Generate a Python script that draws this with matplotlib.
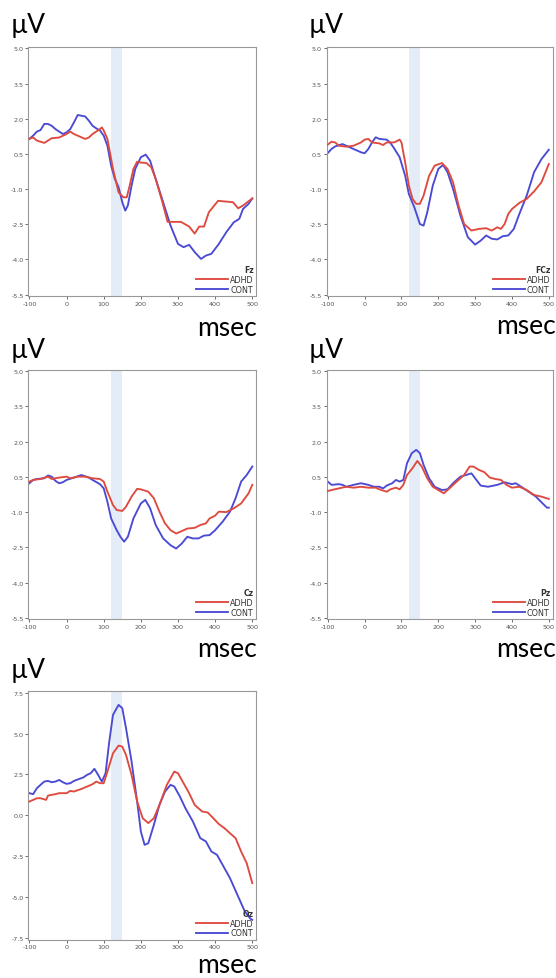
import matplotlib
matplotlib.use("Agg")
import matplotlib.pyplot as plt

plt.rcParams['axes.unicode_minus'] = False

# ---- data (time in msec, amplitude in uV) ----
fz_adhd_t = [-100, -90, -80, -60, -50, -40, -20, 0, 10, 20, 30, 50, 60, 70, 90, 95, 100, 110, 125, 140, 153, 162,
             170, 180, 190, 195, 215, 228, 240, 258, 272, 285, 308, 330, 345, 357, 370, 383, 408, 420, 448, 462, 475, 500]
fz_adhd_v = [1.15, 1.2, 1.07, 0.97, 1.07, 1.17, 1.2, 1.35, 1.45, 1.35, 1.28, 1.14, 1.2, 1.35, 1.56, 1.63, 1.5, 1.14,
             -0.14, -1.14, -1.35, -1.35, -0.85, -0.14, 0.17, 0.14, 0.11, -0.07, -0.57, -1.56, -2.4, -2.4, -2.4, -2.6,
             -2.9, -2.6, -2.6, -1.99, -1.5, -1.52, -1.56, -1.82, -1.7, -1.4]
fz_cont_t = [-100, -90, -80, -70, -60, -50, -40, -30, -10, 0, 10, 20, 30, 40, 50, 60, 70, 80, 90, 100, 110, 120, 130,
             140, 150, 158, 165, 175, 185, 200, 213, 225, 240, 260, 280, 300, 315, 330, 345, 362, 375, 390, 410, 430,
             450, 465, 475, 490, 500]
fz_cont_v = [1.14, 1.28, 1.45, 1.52, 1.78, 1.78, 1.7, 1.56, 1.35, 1.42, 1.56, 1.85, 2.16, 2.13, 2.1, 1.92, 1.7, 1.59,
             1.5, 1.28, 0.85, 0.0, -0.57, -0.92, -1.56, -1.92, -1.7, -0.85, -0.14, 0.36, 0.47, 0.21, -0.57, -1.56,
             -2.56, -3.34, -3.48, -3.38, -3.69, -3.98, -3.84, -3.76, -3.34, -2.84, -2.42, -2.27, -1.85, -1.63, -1.4]

fcz_adhd_t = [-100, -90, -80, -70, -50, -30, -10, 0, 10, 20, 40, 50, 60, 80, 95, 100, 110, 120, 130, 140, 150, 160,
              175, 190, 210, 225, 240, 255, 270, 290, 310, 330, 345, 360, 370, 380, 390, 400, 420, 440, 460, 480, 500]
fcz_adhd_v = [0.9, 1.02, 0.99, 0.85, 0.81, 0.85, 0.99, 1.11, 1.14, 0.99, 0.95, 0.88, 0.99, 0.99, 1.11, 0.99, 0.14,
              -0.85, -1.42, -1.63, -1.63, -1.28, -0.43, 0.0, 0.11, -0.14, -0.71, -1.7, -2.49, -2.77, -2.7, -2.67,
              -2.77, -2.63, -2.7, -2.49, -2.06, -1.85, -1.59, -1.42, -1.1, -0.71, 0.07]
fcz_cont_t = [-100, -90, -80, -60, -50, -30, -10, 0, 10, 20, 30, 40, 60, 70, 80, 95, 110, 120, 135, 150, 160, 170,
              185, 200, 213, 225, 240, 260, 280, 300, 315, 330, 345, 360, 375, 390, 405, 420, 440, 460, 480, 500]
fcz_cont_v = [0.54, 0.71, 0.82, 0.92, 0.85, 0.71, 0.57, 0.53, 0.71, 0.99, 1.21, 1.14, 1.11, 0.97, 0.74, 0.36, -0.43,
              -1.21, -1.78, -2.49, -2.56, -1.99, -0.85, -0.14, 0.03, -0.28, -0.99, -2.13, -3.05, -3.37, -3.2, -2.98,
              -3.12, -3.15, -3.01, -2.98, -2.7, -2.06, -1.28, -0.28, 0.28, 0.68]

cz_adhd_t = [-100, -90, -70, -50, -40, -20, 0, 10, 30, 50, 70, 90, 100, 110, 125, 135, 150, 160, 175, 190, 200, 220,
             235, 250, 265, 280, 295, 310, 325, 345, 360, 375, 385, 400, 410, 430, 450, 470, 490, 500]
cz_adhd_v = [0.3, 0.37, 0.41, 0.51, 0.41, 0.47, 0.51, 0.44, 0.51, 0.51, 0.44, 0.41, 0.3, -0.13, -0.7, -0.91, -0.95,
             -0.77, -0.34, -0.01, -0.03, -0.13, -0.41, -0.98, -1.48, -1.77, -1.91, -1.81, -1.7, -1.67, -1.55, -1.48,
             -1.27, -1.15, -0.98, -1.0, -0.84, -0.63, -0.2, 0.16]
cz_cont_t = [-100, -90, -80, -60, -50, -40, -30, -20, -10, 0, 20, 40, 60, 70, 90, 100, 110, 120, 135, 145, 155, 165,
             180, 200, 212, 225, 240, 260, 280, 295, 310, 325, 340, 355, 370, 385, 400, 420, 440, 455, 470, 485, 500]
cz_cont_v = [0.23, 0.37, 0.41, 0.44, 0.56, 0.51, 0.33, 0.23, 0.27, 0.37, 0.47, 0.58, 0.47, 0.37, 0.19, 0.01, -0.56,
             -1.27, -1.77, -2.05, -2.26, -2.05, -1.27, -0.63, -0.48, -0.84, -1.55, -2.12, -2.41, -2.55, -2.34, -2.05,
             -2.12, -2.12, -2.0, -1.98, -1.77, -1.41, -0.98, -0.41, 0.3, 0.58, 0.94]

pz_adhd_t = [-100, -90, -70, -50, -30, -10, 10, 30, 45, 60, 70, 85, 95, 105, 115, 130, 143, 155, 170, 185, 200, 215,
             230, 250, 270, 285, 295, 310, 325, 340, 355, 370, 385, 400, 420, 440, 460, 480, 500]
pz_adhd_v = [-0.1, -0.06, 0.01, 0.08, 0.04, 0.08, 0.04, 0.04, -0.06, -0.13, -0.03, 0.04, -0.03, 0.16, 0.58, 0.87,
             1.18, 0.94, 0.44, 0.08, -0.06, -0.2, 0.01, 0.3, 0.58, 0.94, 0.94, 0.8, 0.7, 0.47, 0.41, 0.37, 0.16, 0.04,
             0.08, -0.06, -0.27, -0.34, -0.44]
pz_cont_t = [-100, -90, -70, -60, -50, -30, -10, 10, 25, 40, 50, 60, 75, 85, 95, 105, 115, 128, 140, 150, 160, 175,
             190, 210, 225, 240, 260, 275, 290, 300, 315, 335, 360, 380, 400, 410, 425, 445, 465, 480, 495, 500]
pz_cont_v = [0.3, 0.16, 0.19, 0.16, 0.08, 0.16, 0.23, 0.16, 0.08, 0.08, 0.01, 0.13, 0.23, 0.37, 0.3, 0.37, 1.08, 1.51,
             1.65, 1.51, 1.01, 0.44, 0.08, -0.06, -0.03, 0.23, 0.51, 0.58, 0.65, 0.44, 0.13, 0.08, 0.16, 0.27, 0.19,
             0.23, 0.08, -0.13, -0.34, -0.58, -0.81, -0.81]

oz_adhd_t = [-100, -90, -80, -70, -55, -50, -40, -30, -20, 0, 10, 20, 40, 60, 70, 80, 90, 100, 110, 125, 140, 150,
             160, 175, 190, 205, 220, 235, 250, 270, 290, 300, 315, 330, 345, 365, 380, 395, 410, 425, 440, 455, 470,
             485, 500]
oz_adhd_v = [0.84, 0.94, 1.04, 1.04, 0.94, 1.2, 1.25, 1.29, 1.35, 1.35, 1.49, 1.45, 1.61, 1.8, 1.9, 2.06, 1.96, 1.96,
             2.67, 3.79, 4.26, 4.2, 3.69, 2.47, 0.84, -0.18, -0.48, -0.18, 0.63, 1.86, 2.67, 2.57, 1.96, 1.35, 0.63,
             0.23, 0.17, -0.18, -0.54, -0.79, -1.1, -1.4, -2.22, -2.93, -4.15]
oz_cont_t = [-100, -90, -80, -70, -60, -50, -40, -30, -20, -10, 0, 10, 20, 35, 45, 55, 65, 75, 85, 95, 105, 115, 125,
             140, 150, 160, 175, 190, 200, 210, 220, 235, 250, 265, 280, 290, 305, 320, 340, 360, 375, 390, 405, 420,
             440, 460, 480, 495, 500]
oz_cont_v = [1.35, 1.29, 1.65, 1.86, 2.06, 2.1, 2.02, 2.06, 2.16, 2.02, 1.92, 1.96, 2.1, 2.23, 2.31, 2.47, 2.57, 2.84,
             2.47, 2.06, 2.57, 4.51, 6.14, 6.75, 6.55, 5.33, 3.29, 0.84, -0.99, -1.81, -1.71, -0.59, 0.63, 1.45, 1.86,
             1.76, 1.15, 0.43, -0.38, -1.4, -1.6, -2.22, -2.42, -3.03, -3.85, -4.87, -5.89, -6.33, -6.4]

names = ['Fz', 'FCz', 'Cz', 'Pz', 'Oz']
groups = ['ADHD', 'CONT']
x_ticks = [-100, 0, 100, 200, 300, 400, 500]
y_ticks = [-5.5, -4.0, -2.5, -1.0, 0.5, 2.0, 3.5, 5.0]
y_ticks_oz = [-7.5, -5.0, -2.5, 0.0, 2.5, 5.0, 7.5]
window = (120, 150)

series = {
    'Fz': (fz_adhd_t, fz_adhd_v, fz_cont_t, fz_cont_v),
    'FCz': (fcz_adhd_t, fcz_adhd_v, fcz_cont_t, fcz_cont_v),
    'Cz': (cz_adhd_t, cz_adhd_v, cz_cont_t, cz_cont_v),
    'Pz': (pz_adhd_t, pz_adhd_v, pz_cont_t, pz_cont_v),
    'Oz': (oz_adhd_t, oz_adhd_v, oz_cont_t, oz_cont_v),
}

W, H = 556, 979
fig = plt.figure(figsize=(W / 100, H / 100), dpi=100)

# axes boxes in pixels: left, top, right, bottom
boxes = {
    'Fz': (28.3, 48.3, 256, 296.7),
    'FCz': (326.7, 48.3, 552.5, 296.7),
    'Cz': (28.3, 371, 256, 620),
    'Pz': (326.7, 371, 552.5, 620),
    'Oz': (28.3, 692, 256, 940.5),
}
# (x of uV label, baseline of uV label, right of msec, baseline of msec)
labels_pos = {
    'Fz': (11, 33, 257, 336),
    'FCz': (309, 33, 556, 334),
    'Cz': (11, 358, 257, 657),
    'Pz': (309, 358, 556, 657),
    'Oz': (11, 678, 257, 973),
}

red = '#df4a3f'
blue = '#4a4ad4'
big_font = ['Lato', 'DejaVu Sans']

for name in names:
    l, t, r, b = boxes[name]
    ax = fig.add_axes([l / W, 1 - b / H, (r - l) / W, (b - t) / H])
    at, av, ct, cv = series[name]
    ax.axvspan(window[0], window[1], color='#e4ecf7', lw=0, zorder=0)
    ax.plot(at, av, color=red, lw=1.35, label=groups[0], zorder=3, solid_joinstyle='round')
    ax.plot(ct, cv, color=blue, lw=1.35, label=groups[1], zorder=2, solid_joinstyle='round')
    ax.set_xlim(-103, 510)
    if name == 'Oz':
        ax.set_ylim(-7.6, 7.6)
        ax.set_yticks(y_ticks_oz)
    else:
        ax.set_ylim(-5.55, 5.05)
        ax.set_yticks(y_ticks)
    ax.set_xticks(x_ticks)
    ax.yaxis.set_major_formatter(matplotlib.ticker.FormatStrFormatter('%.1f'))
    ax.tick_params(labelsize=4.6, colors='#555555', length=2, width=0.6, pad=1.5)
    for sp in ax.spines.values():
        sp.set_color('#999999')
        sp.set_linewidth(0.8)
    leg = ax.legend(loc='lower right', frameon=False, fontsize=5.8, title=name,
                    title_fontproperties={'weight': 'bold', 'size': 5.5},
                    handlelength=4.0, handletextpad=0.25, labelspacing=0.1,
                    borderaxespad=0.15, borderpad=0.1, alignment='right')
    for txt in leg.get_texts():
        txt.set_color('#333333')
    leg.get_title().set_color('#333333')

    ux, uy, mx, my = labels_pos[name]
    fig.text(ux / W, 1 - uy / H, 'µV', fontsize=19, family=big_font, va='baseline', ha='left')
    fig.text(mx / W, 1 - my / H, 'msec', fontsize=19, family=big_font, va='baseline', ha='right')

fig.savefig('out.png', dpi=100)
